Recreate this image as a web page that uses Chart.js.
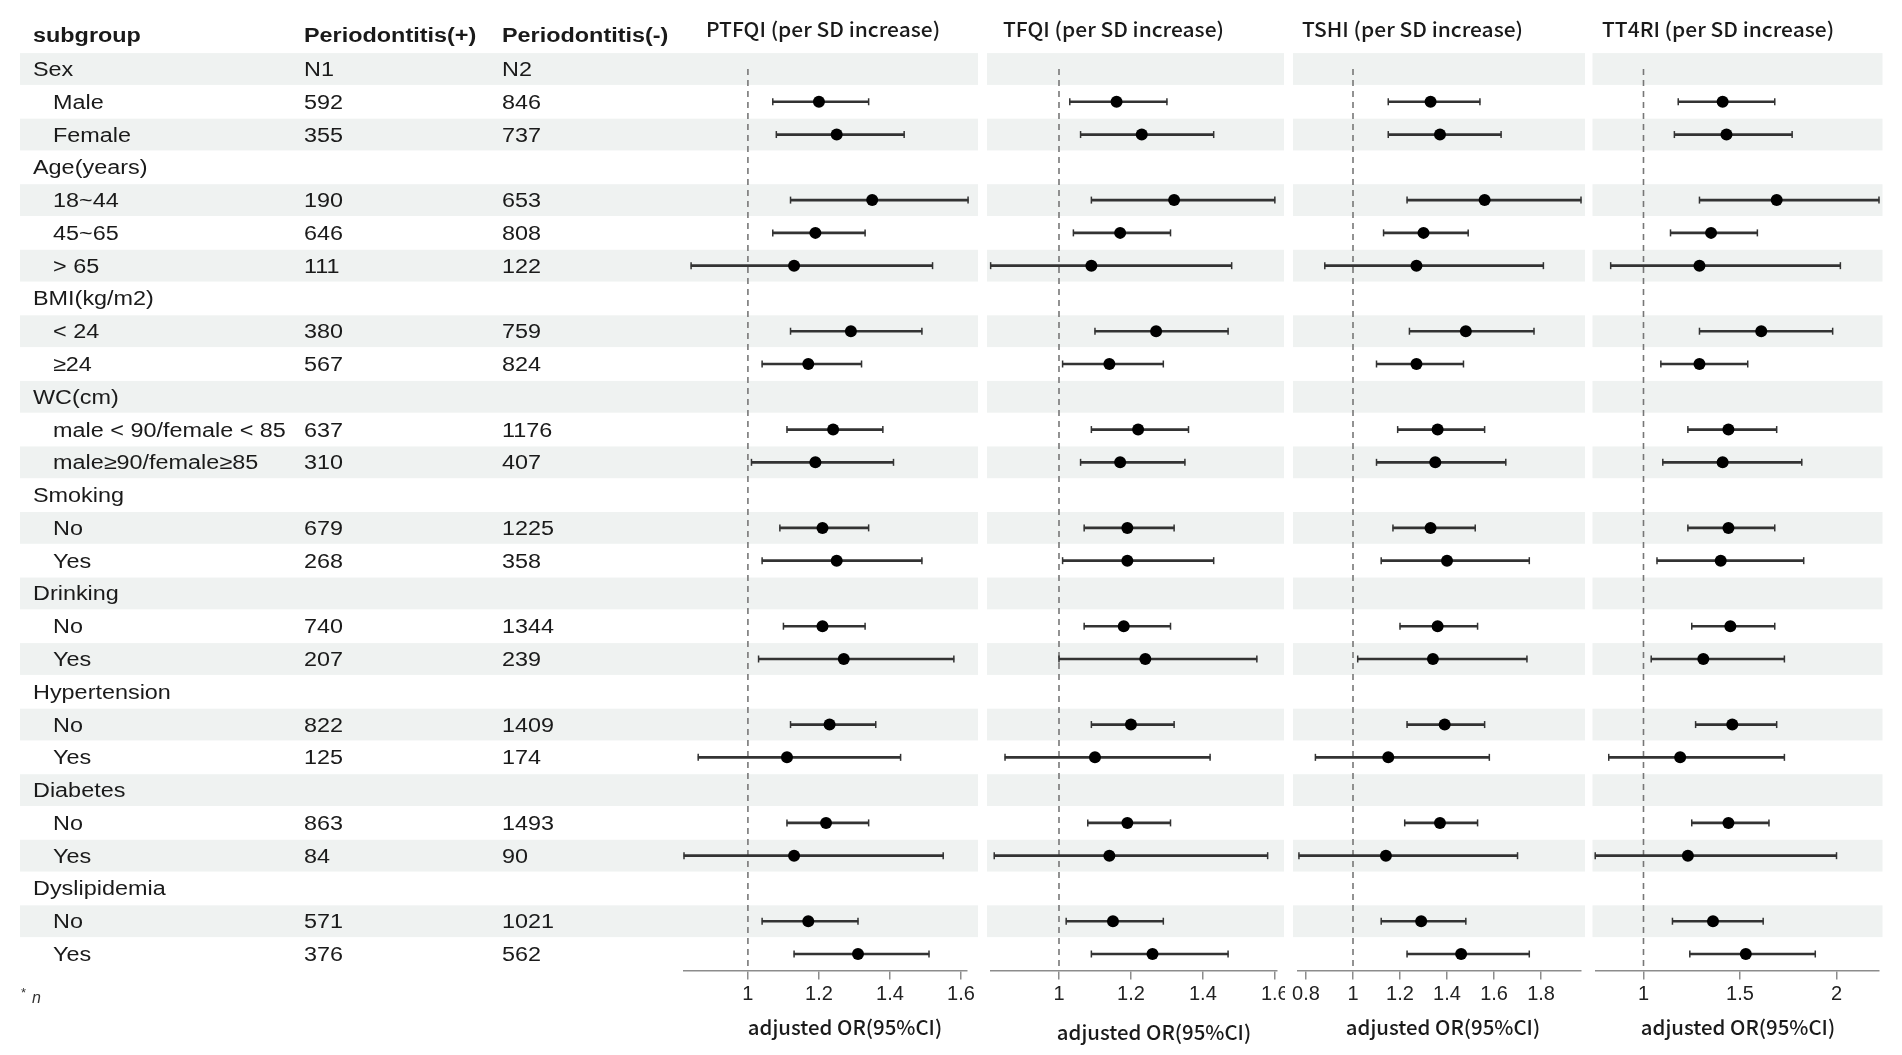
<!DOCTYPE html>
<html>
<head>
<meta charset="utf-8">
<script src="https://cdn.jsdelivr.net/npm/chart.js@4.4.0/dist/chart.umd.min.js"></script>
<style>
  html, body { margin: 0; padding: 0; background: #fff; }
  #wrap { position: relative; width: 1902px; height: 1055px; overflow: hidden; }
  canvas { position: absolute; top: 0; }
</style>
</head>
<body>
<div id="wrap">
  <canvas id="c1" width="980" height="1055" style="left:0px"></canvas>
  <canvas id="c2" width="300" height="1055" style="left:985px"></canvas>
  <canvas id="c3" width="297" height="1055" style="left:1290px"></canvas>
  <canvas id="c4" width="312" height="1055" style="left:1590px"></canvas>
</div>
<script>
// table columns
const tableHeader = ['subgroup', 'Periodontitis(+)', 'Periodontitis(-)'];
const rowLabels = ['Sex', 'Male', 'Female', 'Age(years)', '18~44', '45~65', '> 65',
  'BMI(kg/m2)', '< 24', '≥24', 'WC(cm)', 'male < 90/female < 85', 'male≥90/female≥85',
  'Smoking', 'No', 'Yes', 'Drinking', 'No', 'Yes', 'Hypertension', 'No', 'Yes',
  'Diabetes', 'No', 'Yes', 'Dyslipidemia', 'No', 'Yes'];
const isGroup = [1,0,0,1,0,0,0,1,0,0,1,0,0,1,0,0,1,0,0,1,0,0,1,0,0,1,0,0];
const n1 = ['N1','592','355','','190','646','111','','380','567','','637','310','','679','268','','740','207','','822','125','','863','84','','571','376'];
const n2 = ['N2','846','737','','653','808','122','','759','824','','1176','407','','1225','358','','1344','239','','1409','174','','1493','90','','1021','562'];

// adjusted OR and 95% CI per panel (null = group header row)
const ptfqiOR = [null,1.20,1.25,null,1.35,1.19,1.13,null,1.29,1.17,null,1.24,1.19,null,1.21,1.25,null,1.21,1.27,null,1.23,1.11,null,1.22,1.13,null,1.17,1.31];
const ptfqiLo = [null,1.07,1.08,null,1.12,1.07,0.84,null,1.12,1.04,null,1.11,1.01,null,1.09,1.04,null,1.10,1.03,null,1.12,0.86,null,1.11,0.82,null,1.04,1.13];
const ptfqiHi = [null,1.34,1.44,null,1.62,1.33,1.52,null,1.49,1.32,null,1.38,1.41,null,1.34,1.49,null,1.33,1.58,null,1.36,1.43,null,1.34,1.55,null,1.31,1.51];

const tfqiOR = [null,1.16,1.23,null,1.32,1.17,1.09,null,1.27,1.14,null,1.22,1.17,null,1.19,1.19,null,1.18,1.24,null,1.20,1.10,null,1.19,1.14,null,1.15,1.26];
const tfqiLo = [null,1.03,1.06,null,1.09,1.04,0.81,null,1.10,1.01,null,1.09,1.06,null,1.07,1.01,null,1.07,1.00,null,1.09,0.85,null,1.08,0.82,null,1.02,1.09];
const tfqiHi = [null,1.30,1.43,null,1.60,1.31,1.48,null,1.47,1.29,null,1.36,1.35,null,1.32,1.43,null,1.31,1.55,null,1.32,1.42,null,1.31,1.58,null,1.29,1.47];

const tshiOR = [null,1.33,1.37,null,1.56,1.30,1.27,null,1.48,1.27,null,1.36,1.35,null,1.33,1.40,null,1.36,1.34,null,1.39,1.15,null,1.37,1.14,null,1.29,1.46];
const tshiLo = [null,1.15,1.15,null,1.23,1.13,0.88,null,1.24,1.10,null,1.19,1.10,null,1.17,1.12,null,1.20,1.02,null,1.23,0.84,null,1.22,0.77,null,1.12,1.23];
const tshiHi = [null,1.54,1.63,null,1.97,1.49,1.81,null,1.77,1.47,null,1.56,1.65,null,1.52,1.75,null,1.53,1.74,null,1.56,1.58,null,1.53,1.70,null,1.48,1.75];

const tt4riOR = [null,1.41,1.43,null,1.69,1.35,1.29,null,1.61,1.29,null,1.44,1.41,null,1.44,1.40,null,1.45,1.31,null,1.46,1.19,null,1.44,1.23,null,1.36,1.53];
const tt4riLo = [null,1.18,1.16,null,1.29,1.14,0.83,null,1.29,1.09,null,1.23,1.10,null,1.23,1.07,null,1.25,1.04,null,1.27,0.82,null,1.25,0.75,null,1.15,1.24];
const tt4riHi = [null,1.68,1.77,null,2.22,1.59,2.02,null,1.98,1.54,null,1.69,1.82,null,1.68,1.83,null,1.68,1.73,null,1.69,1.73,null,1.65,2.00,null,1.62,1.89];

// x axes
const ptfqiTicks = [1, 1.2, 1.4, 1.6];
const tfqiTicks = [1, 1.2, 1.4, 1.6];
const tshiTicks = [0.8, 1, 1.2, 1.4, 1.6, 1.8];
const tt4riTicks = [1, 1.5, 2];
const ptfqiRange = [0.82, 1.617];
const tfqiRange = [0.811, 1.606];
const tshiRange = [0.766, 1.97];
const tt4riRange = [0.754, 2.218];

const refValue = 1;
const axisTitle = 'adjusted OR(95%CI)';
const panelTitles = ['PTFQI (per SD increase)', 'TFQI (per SD increase)', 'TSHI (per SD increase)', 'TT4RI (per SD increase)'];

const TEXT = '#1a1a1a';
const BAND = '#eff2f1';
const CI_COLOR = '#333333';
const AXIS_COLOR = '#8c8c8c';

function stretchText(ctx, txt, x, y, sx) {
  ctx.save();
  ctx.translate(x, y);
  ctx.scale(sx, 1);
  ctx.fillText(txt, 0, 0);
  ctx.restore();
}

function drawTable(chart) {
  const ctx = chart.ctx, y = chart.scales.y;
  const colX = [33, 304, 502];
  ctx.save();
  ctx.fillStyle = TEXT;
  ctx.textBaseline = 'alphabetic';
  ctx.font = 'bold 20px "Liberation Sans"';
  tableHeader.forEach((h, k) => stretchText(ctx, h, colX[k], 42, 1.17));
  ctx.font = '20px "Liberation Sans"';
  rowLabels.forEach((lab, i) => {
    const by = y.getPixelForValue(i) + 7;
    stretchText(ctx, lab, isGroup[i] ? colX[0] : 53, by, 1.17);
    stretchText(ctx, n1[i], colX[1], by, 1.17);
    stretchText(ctx, n2[i], colX[2], by, 1.17);
  });
  // footnote
  ctx.fillStyle = '#333';
  ctx.font = '13px "Liberation Sans"';
  ctx.fillText('*', 21, 997);
  ctx.font = 'italic 16px "Liberation Sans"';
  ctx.fillText('n', 32, 1003);
  ctx.restore();
}

const forestDecor = {
  id: 'forestDecor',
  beforeDatasetsDraw(chart, args, opts) {
    const ctx = chart.ctx, y = chart.scales.y;
    ctx.save();
    ctx.fillStyle = BAND;
    rowLabels.forEach((lab, i) => {
      if (i % 2) return;
      const top = y.getPixelForValue(i - 0.5);
      const bot = y.getPixelForValue(i + 0.5);
      ctx.fillRect(opts.bandLeft, top + 0.5, opts.bandRight - opts.bandLeft, bot - top - 1);
    });
    ctx.fillStyle = TEXT;
    ctx.font = '500 20px "Noto Sans CJK SC"';
    ctx.textBaseline = 'middle';
    stretchText(ctx, opts.title, opts.titleX, 29, 1.05);
    // x axis title
    ctx.textAlign = 'center';
    ctx.font = '500 20px "Noto Sans CJK SC"';
    stretchText(ctx, axisTitle, opts.axisTitleX, opts.axisTitleY, 1.02);
    ctx.restore();
    if (opts.table) drawTable(chart);
  }
};

function makePanel(id, or, lo, hi, ticks, range, deco, pad) {
  const pts = [], caps = [], bars = [];
  or.forEach((v, i) => {
    if (v === null) return;
    pts.push({x: v, y: i});
    caps.push({x: lo[i], y: i}, {x: hi[i], y: i});
    bars.push({x: [lo[i], hi[i]], y: i});
  });
  return new Chart(document.getElementById(id), {
    type: 'scatter',
    data: {
      datasets: [
        {type: 'scatter', data: pts, order: 0, pointStyle: 'circle', pointRadius: 6,
         backgroundColor: '#000', borderWidth: 0, clip: false},
        {type: 'scatter', data: caps, order: 1, pointStyle: 'line', rotation: 90, pointRadius: 3.5,
         borderColor: CI_COLOR, borderWidth: 1.5, clip: false},
        {type: 'bar', indexAxis: 'y', data: bars, order: 2, barThickness: 2,
         backgroundColor: CI_COLOR, borderWidth: 0, clip: false},
        {type: 'line', data: [{x: refValue, y: 0}, {x: refValue, y: rowLabels.length - 0.5}], order: 3,
         borderColor: '#777777', borderWidth: 1.6, borderDash: [6, 5], pointRadius: 0, fill: false}
      ]
    },
    options: {
      responsive: false,
      animation: false,
      devicePixelRatio: 1,
      events: [],
      layout: {padding: {left: pad[0], right: pad[1], top: 52.6, bottom: 16.6}},
      plugins: {legend: {display: false}, tooltip: {enabled: false}, forestDecor: deco},
      scales: {
        x: {
          type: 'linear', min: range[0], max: range[1], offset: false,
          afterBuildTicks: s => { s.ticks = ticks.map(v => ({value: v})); },
          afterFit: s => { s.height = 68; s.paddingLeft = 0; s.paddingRight = 0; },
          grid: {display: true, drawOnChartArea: false, drawTicks: true, tickLength: 9, offset: false,
                 color: AXIS_COLOR, lineWidth: 1.5},
          border: {display: true, color: AXIS_COLOR, width: 1.5},
          ticks: {callback: v => String(v), autoSkip: false, maxRotation: 0, padding: 3,
                  color: '#222', font: {family: 'Liberation Sans', size: 20}}
        },
        y: {type: 'linear', display: false, reverse: true, offset: false, grid: {offset: false},
            min: -0.5, max: rowLabels.length - 0.5}
      }
    },
    plugins: [forestDecor]
  });
}

makePanel('c1', ptfqiOR, ptfqiLo, ptfqiHi, ptfqiTicks, ptfqiRange,
  {bandLeft: 20, bandRight: 978, title: panelTitles[0], titleX: 706, table: true,
   axisTitleX: 845, axisTitleY: 1027}, [684, 13]);
makePanel('c2', tfqiOR, tfqiLo, tfqiHi, tfqiTicks, tfqiRange,
  {bandLeft: 2, bandRight: 299, title: panelTitles[1], titleX: 18, table: false,
   axisTitleX: 169, axisTitleY: 1032}, [6, 8]);
makePanel('c3', tshiOR, tshiLo, tshiHi, tshiTicks, tshiRange,
  {bandLeft: 3, bandRight: 295, title: panelTitles[2], titleX: 12, table: false,
   axisTitleX: 153, axisTitleY: 1027}, [8, 5]);
makePanel('c4', tt4riOR, tt4riLo, tt4riHi, tt4riTicks, tt4riRange,
  {bandLeft: 2.5, bandRight: 292.5, title: panelTitles[3], titleX: 12, table: false,
   axisTitleX: 148, axisTitleY: 1027}, [5.6, 23.4]);
</script>
</body>
</html>
